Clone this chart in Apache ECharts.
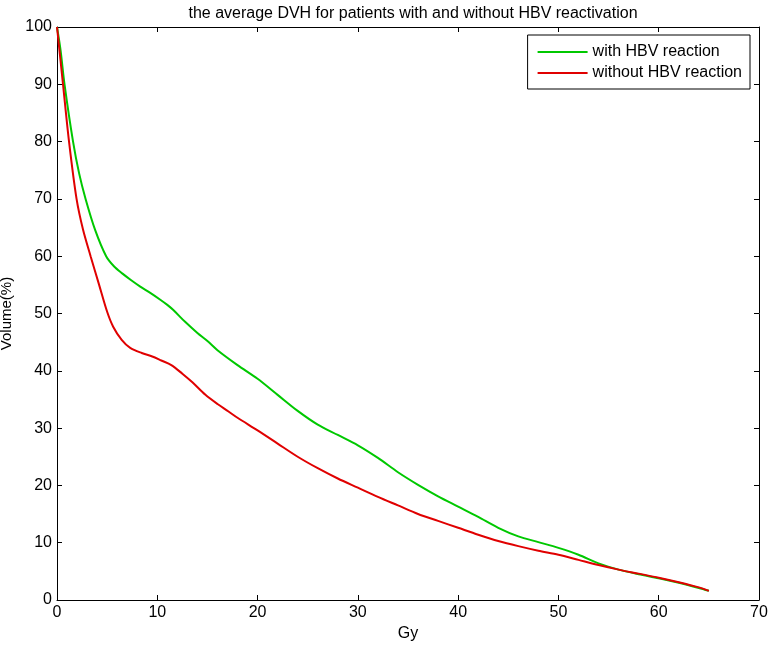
<!DOCTYPE html>
<html>
<head>
<meta charset="utf-8">
<script src="https://cdn.jsdelivr.net/npm/echarts@6/dist/echarts.min.js"></script>
<style>
  html, body { margin: 0; padding: 0; background: #fff; }
  #chart { width: 768px; height: 648px; }
</style>
</head>
<body>
<div id="chart"></div>
<script>
const titleText = 'the average DVH for patients with and without HBV reactivation';
const seriesNames = ['with HBV reaction', 'without HBV reaction'];
const xTicks = [0, 10, 20, 30, 40, 50, 60, 70];
const yTicks = [0, 10, 20, 30, 40, 50, 60, 70, 80, 90, 100];

// with HBV reaction (green)
const doseWith = [0, 0.35, 0.75, 1.6, 2.2, 2.85, 3.8, 4.9, 5.7, 6.5, 7.4, 8.3, 9.3, 10.3, 11, 11.6, 12.8, 14, 15, 16, 18, 20, 22, 24, 26, 28, 30, 32, 34, 36, 38, 40, 42, 44, 46, 48, 50, 52, 54, 56, 58, 60, 62, 64, 65];
const volWith = [100, 96, 90, 80, 74.5, 70, 64.6, 60, 58.2, 57, 55.8, 54.7, 53.6, 52.4, 51.5, 50.6, 48.5, 46.6, 45.2, 43.6, 41, 38.6, 35.8, 33, 30.6, 28.8, 27, 24.8, 22.3, 20.1, 18.1, 16.3, 14.5, 12.6, 11.1, 10.1, 9.1, 7.9, 6.4, 5.3, 4.5, 3.8, 3.0, 2.1, 1.6];

// without HBV reaction (red)
const doseWithout = [0, 0.6, 1.2, 1.95, 2.6, 3.35, 4.2, 5.0, 5.6, 6.45, 7.3, 8.45, 9.5, 10.4, 11.4, 12.5, 13.5, 14.8, 16, 17.1, 18, 20, 22, 24, 26, 28, 30, 32, 34, 36, 38, 40, 42, 44, 46, 48, 50, 52, 54, 56, 58, 60, 62, 64, 65];
const volWithout = [100, 90, 80, 70, 64.6, 60, 55, 50.3, 47.7, 45.4, 44, 43.1, 42.5, 41.8, 41, 39.5, 38, 35.8, 34.2, 32.9, 31.8, 29.6, 27.3, 25, 23, 21.2, 19.6, 18, 16.5, 15, 13.8, 12.6, 11.4, 10.3, 9.4, 8.6, 7.9, 7.0, 6.1, 5.3, 4.6, 3.9, 3.1, 2.2, 1.6];

const pairs = (xs, ys) => xs.map((x, i) => [x, ys[i]]);

const chart = echarts.init(document.getElementById('chart'));
const font = 'Liberation Sans, Arial, sans-serif';

const baseAxis = {
  min: 0,
  interval: 10,
  axisLine: { show: true, onZero: false, lineStyle: { color: '#000', width: 1 } },
  axisTick: { show: true, inside: true, length: 5, lineStyle: { color: '#000' } },
  splitLine: { show: false }
};

const option = {
  animation: false,
  backgroundColor: '#fff',
  textStyle: { fontFamily: font },
  title: {
    text: titleText,
    left: 408,
    textAlign: 'center',
    top: 1,
    textStyle: { fontSize: 16, fontWeight: 'normal', color: '#000', fontFamily: font }
  },
  legend: {
    data: seriesNames,
    orient: 'vertical',
    right: 18,
    top: 35,
    padding: [9, 8, 8, 10],
    itemGap: 5,
    itemWidth: 50,
    itemHeight: 14,
    icon: 'path://M0,0L50,0L50,2L0,2Z',
    borderColor: '#000',
    borderWidth: 1,
    borderRadius: 0,
    backgroundColor: '#fff',
    textStyle: { fontSize: 16, color: '#000', fontFamily: font }
  },
  grid: { left: 57, right: 9, top: 27, bottom: 48, containLabel: false, outerBoundsMode: 'none' },
  xAxis: [
    Object.assign({}, baseAxis, {
      type: 'value',
      max: 70,
      position: 'bottom',
      name: 'Gy',
      nameLocation: 'middle',
      nameGap: 24,
      nameTextStyle: { fontSize: 16, color: '#000', fontFamily: font },
      axisLabel: { fontSize: 16, color: '#000', margin: 5, fontFamily: font, formatter: v => xTicks.includes(v) ? String(v) : '' }
    }),
    Object.assign({}, baseAxis, {
      type: 'value',
      max: 70,
      position: 'top',
      axisLabel: { show: false }
    })
  ],
  yAxis: [
    Object.assign({}, baseAxis, {
      type: 'value',
      max: 100,
      position: 'left',
      name: 'Volume(%)',
      nameLocation: 'middle',
      nameGap: 37,
      nameTextStyle: { fontSize: 15, color: '#000', fontFamily: font },
      axisLabel: { fontSize: 16, color: '#000', margin: 5, fontFamily: font, formatter: v => yTicks.includes(v) ? String(v) : '' }
    }),
    Object.assign({}, baseAxis, {
      type: 'value',
      max: 100,
      position: 'right',
      axisLabel: { show: false }
    })
  ],
  series: [
    {
      name: seriesNames[0],
      type: 'line',
      data: pairs(doseWith, volWith),
      smooth: 0.3,
      symbol: 'none',
      lineStyle: { color: '#00c800', width: 2 },
      itemStyle: { color: '#00c800' },
      z: 2
    },
    {
      name: seriesNames[1],
      type: 'line',
      data: pairs(doseWithout, volWithout),
      smooth: 0.3,
      symbol: 'none',
      lineStyle: { color: '#e00000', width: 2 },
      itemStyle: { color: '#e00000' },
      z: 3
    }
  ]
};

chart.setOption(option);
window.addEventListener('resize', chart.resize);
</script>
</body>
</html>
